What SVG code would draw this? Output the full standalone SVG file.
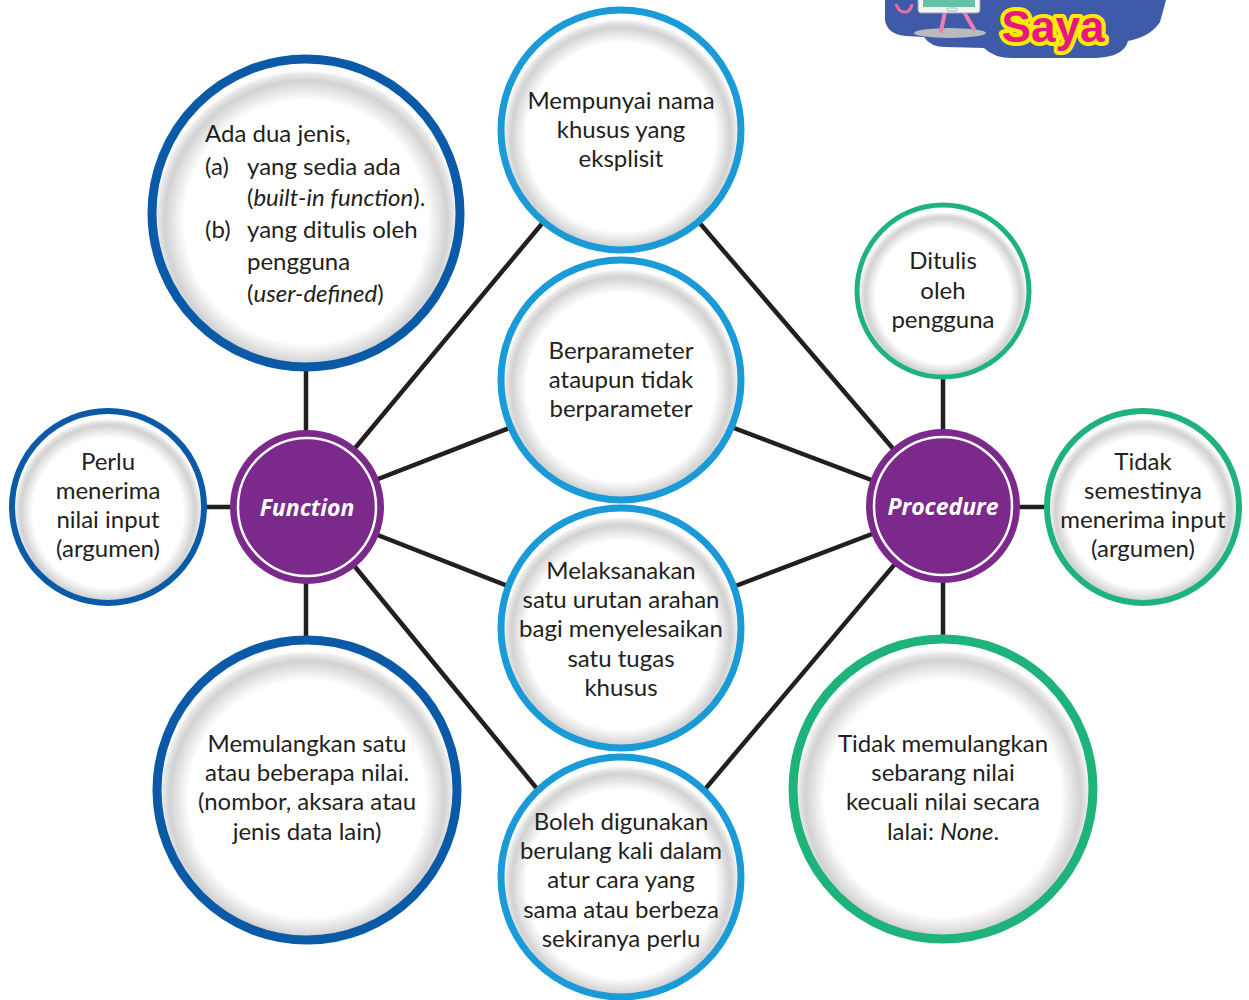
<svg xmlns="http://www.w3.org/2000/svg" width="1249" height="1000" viewBox="0 0 1249 1000">
  <defs>
    <radialGradient id="shade" cx="0.5" cy="0.53" r="0.5">
      <stop offset="0" stop-color="#ffffff"/>
      <stop offset="0.80" stop-color="#ffffff"/>
      <stop offset="0.93" stop-color="#d2d2d2"/>
      <stop offset="0.975" stop-color="#e8e8e8"/>
      <stop offset="1" stop-color="#ffffff"/>
    </radialGradient>
  </defs>
  <style>
    .bg { fill: #ffffff; }
    .link { stroke: #231f20; stroke-width: 4.5; fill: none; }
    .face { fill: url(#shade); }
    .rim-dark { fill: none; stroke: #0b5aa7; }
    .rim-light { fill: none; stroke: #1b9ad8; }
    .rim-green { fill: none; stroke: #1fb37c; }
    .hub { fill: #7b2a8b; }
    .hub-ring { fill: none; stroke: #ffffff; stroke-width: 2.5; }
    .t { font-family: Lato, "Open Sans", "Liberation Sans", sans-serif; font-size: 24px; fill: #231f20; text-anchor: middle; }
    .tl { font-family: Lato, "Open Sans", "Liberation Sans", sans-serif; font-size: 24px; fill: #231f20; }
    .hub-t { font-family: "Open Sans", Lato, "Liberation Sans", sans-serif; font-size: 23px; font-weight: bold; font-style: italic; fill: #ffffff; text-anchor: middle; }
    .i { font-style: italic; }
  </style>

  <rect class="bg" x="0" y="0" width="1249" height="1000"/>

  <!-- header badge, top right -->
  <g id="badge">
    <path d="M885 0 L885 20 Q887 34 905 36 L924 37 Q930 47 946 47 L984 48 Q994 58 1012 58 L1095 58 Q1124 57 1128 41 Q1150 37 1160 22 L1166 0 Z" fill="#3f5aa8"/>
    <path d="M896 4 Q899 13 906 12 Q911 11 912 4" fill="none" stroke="#ea6aa4" stroke-width="3"/>
    <ellipse cx="950" cy="33" rx="36" ry="5" fill="#b9babd"/>
    <path d="M945 12 L941 31 M964 12 L974 29" stroke="#ef7db0" stroke-width="4" stroke-linecap="round" fill="none"/>
    <rect x="918" y="-6" width="62" height="19" rx="3" fill="#f4f4f4" stroke="#9aa3a8" stroke-width="1"/>
    <rect x="923" y="-6" width="52" height="13" fill="#5fc3a4"/>
    <rect x="947" y="8" width="10" height="3" rx="1" fill="none" stroke="#9aa3a8" stroke-width="0.8"/>
    <text x="1053" y="42" text-anchor="middle" font-family="'Liberation Sans', Arial, sans-serif" font-weight="bold" font-size="44" fill="#e9167f" stroke="#ffeb00" stroke-width="8" stroke-linejoin="round" paint-order="stroke">Saya</text>
  </g>

  <!-- connectors -->
  <g id="connectors">
    <line class="link" x1="306" y1="507" x2="306" y2="213"/>
    <line class="link" x1="306" y1="507" x2="108" y2="507"/>
    <line class="link" x1="306" y1="507" x2="306" y2="790"/>
    <line class="link" x1="306" y1="507" x2="620" y2="130"/>
    <line class="link" x1="306" y1="507" x2="620" y2="385"/>
    <line class="link" x1="306" y1="507" x2="620" y2="630"/>
    <line class="link" x1="306" y1="507" x2="620" y2="890"/>
    <line class="link" x1="943" y1="507" x2="943" y2="290"/>
    <line class="link" x1="943" y1="507" x2="1143" y2="507"/>
    <line class="link" x1="943" y1="507" x2="943" y2="790"/>
    <line class="link" x1="943" y1="507" x2="620" y2="130"/>
    <line class="link" x1="943" y1="507" x2="620" y2="385"/>
    <line class="link" x1="943" y1="507" x2="620" y2="630"/>
    <line class="link" x1="943" y1="507" x2="620" y2="890"/>
  </g>

  <!-- Function side -->
  <g id="n-jenis">
    <circle class="face" cx="306" cy="213" r="152"/>
    <circle class="rim-dark" cx="306" cy="213" r="154" stroke-width="9"/>
    <text class="tl" x="205" y="142">Ada dua jenis,</text>
    <text class="tl" x="205" y="175">(a)</text>
    <text class="tl" x="247" y="175">yang sedia ada</text>
    <text class="tl" x="247" y="206">(<tspan class="i">built-in function</tspan>).</text>
    <text class="tl" x="205" y="238">(b)</text>
    <text class="tl" x="247" y="238">yang ditulis oleh</text>
    <text class="tl" x="247" y="270">pengguna</text>
    <text class="tl" x="247" y="302">(<tspan class="i">user-defined</tspan>)</text>
  </g>

  <g id="n-perlu">
    <circle class="face" cx="108" cy="507" r="94"/>
    <circle class="rim-dark" cx="108" cy="507" r="96" stroke-width="6"/>
    <text class="t" x="108" y="470">Perlu</text>
    <text class="t" x="108" y="499">menerima</text>
    <text class="t" x="108" y="528">nilai input</text>
    <text class="t" x="108" y="557">(argumen)</text>
  </g>

  <g id="n-memulangkan">
    <circle class="face" cx="307" cy="790" r="148"/>
    <circle class="rim-dark" cx="307" cy="790" r="150" stroke-width="9"/>
    <text class="t" x="307" y="752">Memulangkan satu</text>
    <text class="t" x="307" y="781">atau beberapa nilai.</text>
    <text class="t" x="307" y="810">(nombor, aksara atau</text>
    <text class="t" x="307" y="840">jenis data lain)</text>
  </g>

  <g id="n-function">
    <circle class="hub" cx="307" cy="507" r="77"/>
    <circle class="hub-ring" cx="307" cy="507" r="69"/>
    <text class="hub-t" x="307" y="516">Function</text>
  </g>

  <!-- shared traits, centre column -->
  <g id="n-nama">
    <circle class="face" cx="621" cy="130" r="118"/>
    <circle class="rim-light" cx="621" cy="130" r="120" stroke-width="7"/>
    <text class="t" x="621" y="109">Mempunyai nama</text>
    <text class="t" x="621" y="138">khusus yang</text>
    <text class="t" x="621" y="167">eksplisit</text>
  </g>

  <g id="n-parameter">
    <circle class="face" cx="621" cy="380" r="118"/>
    <circle class="rim-light" cx="621" cy="380" r="120" stroke-width="7"/>
    <text class="t" x="621" y="359">Berparameter</text>
    <text class="t" x="621" y="388">ataupun tidak</text>
    <text class="t" x="621" y="417">berparameter</text>
  </g>

  <g id="n-arahan">
    <circle class="face" cx="621" cy="628" r="118"/>
    <circle class="rim-light" cx="621" cy="628" r="120" stroke-width="7"/>
    <text class="t" x="621" y="579">Melaksanakan</text>
    <text class="t" x="621" y="608">satu urutan arahan</text>
    <text class="t" x="621" y="637">bagi menyelesaikan</text>
    <text class="t" x="621" y="667">satu tugas</text>
    <text class="t" x="621" y="696">khusus</text>
  </g>

  <g id="n-berulang">
    <circle class="face" cx="621" cy="877" r="118"/>
    <circle class="rim-light" cx="621" cy="877" r="120" stroke-width="7"/>
    <text class="t" x="621" y="830">Boleh digunakan</text>
    <text class="t" x="621" y="859">berulang kali dalam</text>
    <text class="t" x="621" y="888">atur cara yang</text>
    <text class="t" x="621" y="918">sama atau berbeza</text>
    <text class="t" x="621" y="947">sekiranya perlu</text>
  </g>

  <!-- Procedure side -->
  <g id="n-ditulis">
    <circle class="face" cx="943" cy="291" r="84"/>
    <circle class="rim-green" cx="943" cy="291" r="86" stroke-width="5"/>
    <text class="t" x="943" y="269">Ditulis</text>
    <text class="t" x="943" y="299">oleh</text>
    <text class="t" x="943" y="328">pengguna</text>
  </g>

  <g id="n-semestinya">
    <circle class="face" cx="1143" cy="507" r="94"/>
    <circle class="rim-green" cx="1143" cy="507" r="96" stroke-width="6"/>
    <text class="t" x="1143" y="470">Tidak</text>
    <text class="t" x="1143" y="499">semestinya</text>
    <text class="t" x="1143" y="528">menerima input</text>
    <text class="t" x="1143" y="557">(argumen)</text>
  </g>

  <g id="n-none">
    <circle class="face" cx="943" cy="789" r="148"/>
    <circle class="rim-green" cx="943" cy="789" r="150" stroke-width="9"/>
    <text class="t" x="943" y="752">Tidak memulangkan</text>
    <text class="t" x="943" y="781">sebarang nilai</text>
    <text class="t" x="943" y="810">kecuali nilai secara</text>
    <text class="t" x="943" y="840">lalai: <tspan class="i">None</tspan>.</text>
  </g>

  <g id="n-procedure">
    <circle class="hub" cx="943" cy="506" r="77"/>
    <circle class="hub-ring" cx="943" cy="506" r="69"/>
    <text class="hub-t" x="943" y="515">Procedure</text>
  </g>
</svg>
